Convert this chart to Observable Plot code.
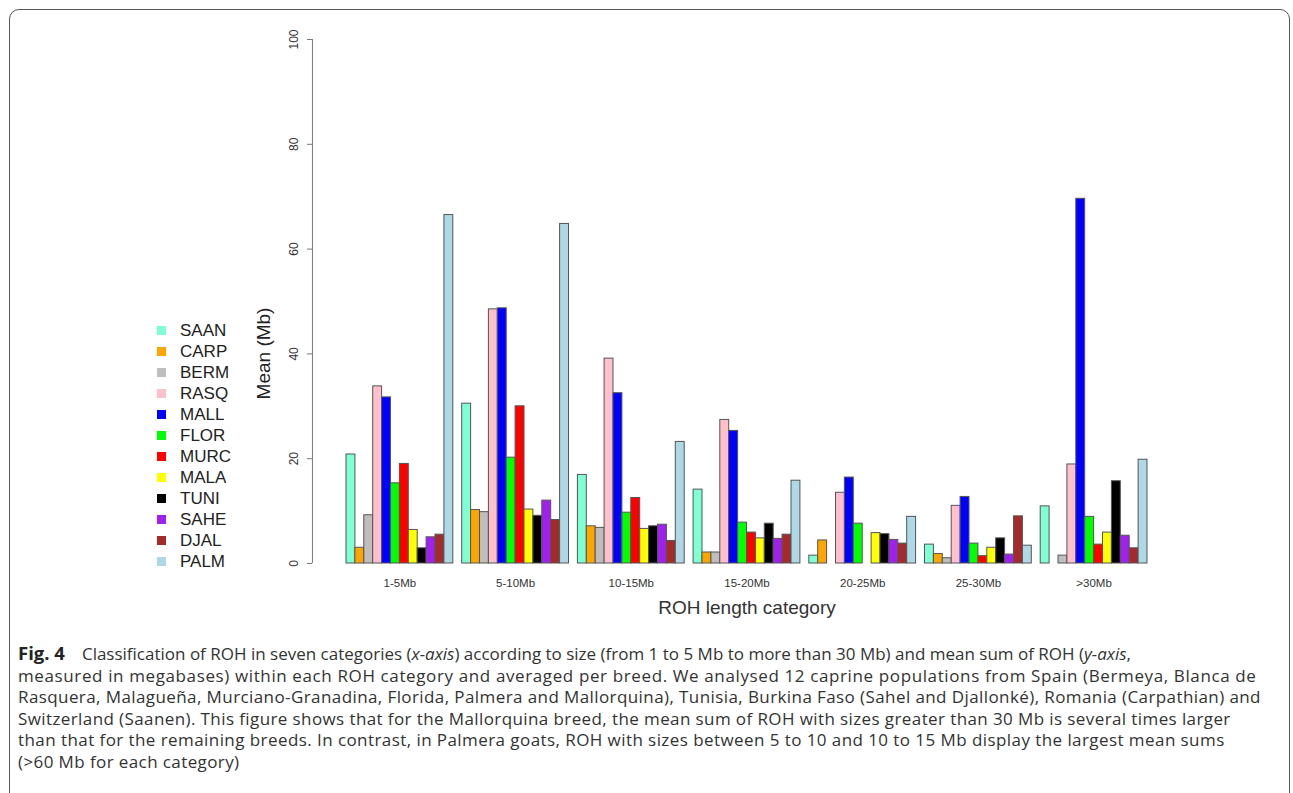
<!DOCTYPE html>
<html><head><meta charset="utf-8">
<script src="https://cdn.jsdelivr.net/npm/d3@7"></script>
<script src="https://cdn.jsdelivr.net/npm/@observablehq/plot@0.6"></script>
<style>
html,body{margin:0;padding:0;background:#fff;width:1293px;height:793px;overflow:hidden;}
#frame{position:absolute;left:9px;top:9px;width:1281px;height:900px;border:1px solid #555;border-radius:10px;box-sizing:border-box;}
#chart{position:absolute;left:0;top:0;}
#legend{position:absolute;left:157px;top:320px;}
#legend, #legend *{font-family:"Liberation Sans",Arial,sans-serif !important;font-size:17px !important;color:#222;}
#legend .lg-swatch{height:21px;padding:0 !important;margin:0 !important;}
#legend .lg-swatch svg{margin-right:14px !important;}
#caption{position:absolute;left:18px;top:642px;font-family:"Open Sans",sans-serif;font-size:17px;line-height:21.6px;color:#333;white-space:nowrap;}
#caption span{display:block;}
#caption b{font-weight:700;color:#222;font-size:18.5px;letter-spacing:0;margin-right:17px;}
</style></head><body>
<div id="frame"></div>
<div id="chart"></div>
<div id="legend"></div>
<div id="caption"><span style="letter-spacing:0px"><b>Fig. 4</b>Classification of ROH in seven categories (<i>x-axis</i>) according to size (from 1 to 5 Mb to more than 30 Mb) and mean sum of ROH (<i>y-axis</i>,</span><span style="letter-spacing:0.62px">measured in megabases) within each ROH category and averaged per breed. We analysed 12 caprine populations from Spain (Bermeya, Blanca de</span><span style="letter-spacing:0.41px">Rasquera, Malagueña, Murciano-Granadina, Florida, Palmera and Mallorquina), Tunisia, Burkina Faso (Sahel and Djallonké), Romania (Carpathian) and</span><span style="letter-spacing:0.4px">Switzerland (Saanen). This figure shows that for the Mallorquina breed, the mean sum of ROH with sizes greater than 30 Mb is several times larger</span><span style="letter-spacing:0.43px">than that for the remaining breeds. In contrast, in Palmera goats, ROH with sizes between 5 to 10 and 10 to 15 Mb display the largest mean sums</span><span style="letter-spacing:0.4px">(&gt;60 Mb for each category)</span></div>
<script>
const categories = ["1-5Mb", "5-10Mb", "10-15Mb", "15-20Mb", "20-25Mb", "25-30Mb", ">30Mb"];
const breeds = ["SAAN", "CARP", "BERM", "RASQ", "MALL", "FLOR", "MURC", "MALA", "TUNI", "SAHE", "DJAL", "PALM"];
const colors = ["#7FFFD4", "#FFA500", "#BEBEBE", "#FFC0CB", "#0000FF", "#00FF00", "#FF0000", "#FFFF00", "#000000", "#A020F0", "#A52A2A", "#ADD8E6"];
const yTicks = [0, 20, 40, 60, 80, 100];

// mean sum of ROH (Mb) per breed, in the order of categories
const saan = [20.8, 30.5, 16.9, 14.1, 1.5, 3.6, 10.9];
const carp = [3.0, 10.2, 7.1, 2.1, 4.4, 1.8, 0];
const berm = [9.2, 9.8, 6.8, 2.1, 0, 1.0, 1.5];
const rasq = [33.8, 48.5, 39.1, 27.4, 13.5, 11.0, 18.9];
const mall = [31.7, 48.7, 32.5, 25.3, 16.4, 12.7, 69.6];
const flor = [15.3, 20.2, 9.7, 7.8, 7.6, 3.8, 8.9];
const murc = [19.0, 30.0, 12.5, 5.9, 0, 1.4, 3.6];
const mala = [6.4, 10.3, 6.6, 4.8, 5.8, 3.0, 5.9];
const tuni = [2.9, 9.1, 7.1, 7.6, 5.6, 4.8, 15.7];
const sahe = [5.0, 12.0, 7.4, 4.7, 4.5, 1.7, 5.3];
const djal = [5.5, 8.3, 4.3, 5.5, 3.8, 9.0, 2.9];
const palm = [66.5, 64.8, 23.2, 15.8, 8.9, 3.4, 19.8];

const series = [saan, carp, berm, rasq, mall, flor, murc, mala, tuni, sahe, djal, palm];
const rows = [];
categories.forEach((c, ci) => breeds.forEach((b, bi) => rows.push({category: c, breed: b, value: series[bi][ci]})));

const first = () => categories[0];

const chart = Plot.plot({
  width: 1293, height: 625,
  marginLeft: 346, marginRight: 146, marginTop: 39, marginBottom: 62,
  style: {fontFamily: '"Liberation Sans", Arial, sans-serif', color: "#333", background: "transparent", overflow: "visible"},
  fx: {domain: categories, paddingInner: 1 / 13, paddingOuter: 0, round: false},
  x: {domain: breeds, padding: 0, round: false, axis: null},
  y: {domain: [0, 100]},
  color: {domain: breeds, range: colors},
  marks: [
    Plot.barY(rows, {fx: "category", x: "breed", y: "value", fill: "breed", stroke: "#555", strokeWidth: 1}),
    Plot.axisFx({anchor: "bottom", tickSize: 0, tickPadding: 15, fontSize: 11.5, label: null}),
    Plot.axisFx({anchor: "bottom", ticks: [], tickSize: 0, fontSize: 19, label: "ROH length category", labelAnchor: "center", labelOffset: 50}),
    Plot.axisY({ticks: yTicks, tickSize: 5, tickRotate: -90, tickPadding: 10, fontSize: 12, dx: -34, label: null, stroke: "#777"}),
    Plot.ruleX(["SAAN"], {x: d => d, fx: first, y1: 0, y2: 100, dx: -38.5, stroke: "#777"}),
    Plot.text(["Mean (Mb)"], {text: d => d, fx: first, frameAnchor: "left", textAnchor: "middle", rotate: -90, dx: -83, dy: 52, fontSize: 19, fill: "#222"})
  ]
});
document.getElementById("chart").appendChild(chart);

const legend = Plot.legend({color: {domain: breeds, range: colors}, legend: "swatches", columns: 1, swatchSize: 9, className: "lg"});
document.getElementById("legend").appendChild(legend);
</script>
</body></html>
